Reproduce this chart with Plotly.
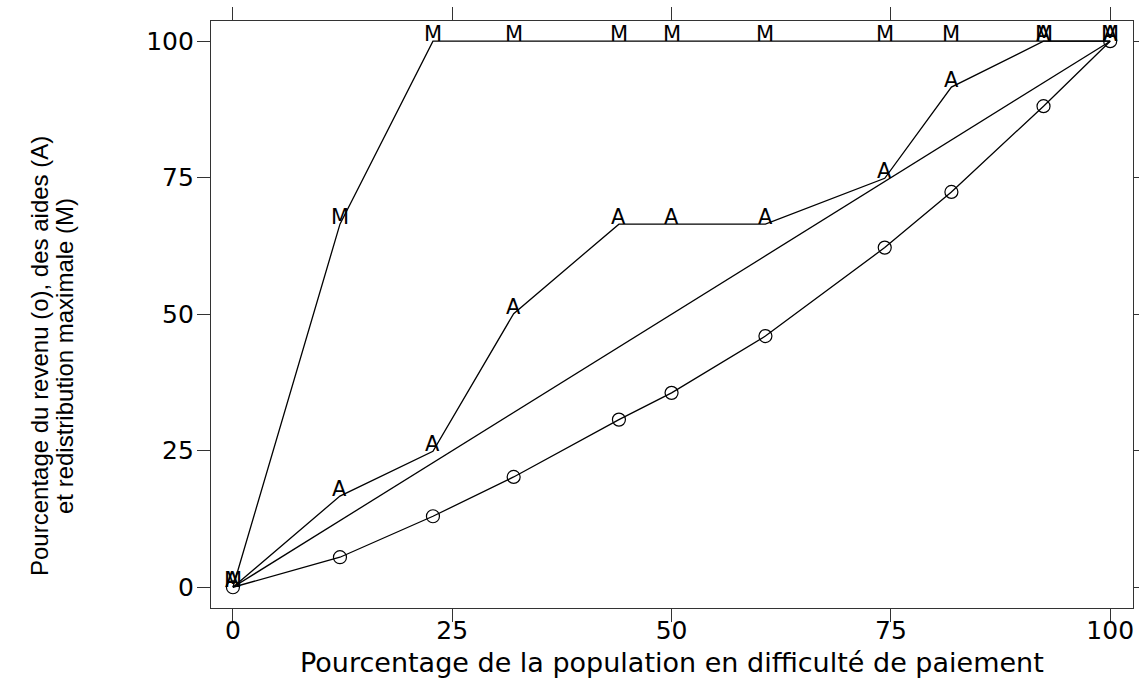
import plotly.graph_objects as go

# Data
x_pop = [0, 12.2, 22.8, 32.0, 44.0, 50.0, 60.7, 74.3, 81.9, 92.4, 100]
revenu = [0, 5.5, 13.0, 20.2, 30.7, 35.6, 46.0, 62.2, 72.4, 88.1, 100]
aides = [0, 16.7, 24.9, 50.1, 66.5, 66.5, 66.5, 74.9, 91.6, 100, 100]
maxi = [0, 66.5, 100, 100, 100, 100, 100, 100, 100, 100, 100]
egal_x = [0, 100]
egal_y = [0, 100]
tick_vals = [0, 25, 50, 75, 100]
tick_text = ["0", "25", "50", "75", "100"]

x_title = "Pourcentage de la population en difficulté de paiement"
y_title_1 = "Pourcentage du revenu (o), des aides (A)"
y_title_2 = "et redistribution maximale (M)"

line_style = dict(color="black", width=1.3)
fig = go.Figure()
fig.add_trace(go.Scatter(x=x_pop, y=maxi, mode="lines", line=line_style, hoverinfo="skip"))
fig.add_trace(go.Scatter(x=x_pop, y=aides, mode="lines", line=line_style, hoverinfo="skip"))
fig.add_trace(go.Scatter(x=egal_x, y=egal_y, mode="lines", line=line_style, hoverinfo="skip"))
fig.add_trace(go.Scatter(
    x=x_pop, y=revenu, mode="lines+markers", line=line_style,
    marker=dict(symbol="circle-open", size=13, color="black", line=dict(width=1.2)),
    hoverinfo="skip"))

letter_font = dict(family="DejaVu Sans", size=21, color="black")
annotations = []
for xv, yv in zip(x_pop, maxi):
    annotations.append(dict(x=xv, y=yv, xref="x", yref="y", text="M", showarrow=False,
                            font=letter_font, yanchor="bottom", yshift=-7))
for xv, yv in zip(x_pop, aides):
    annotations.append(dict(x=xv, y=yv, xref="x", yref="y", text="A", showarrow=False,
                            font=letter_font, yanchor="bottom", yshift=-7))

annotations.append(dict(x=0.5, y=-0.093, xref="paper", yref="paper", text=x_title,
                        showarrow=False, xanchor="center", yanchor="middle",
                        font=dict(family="DejaVu Sans", size=27, color="black")))
title_font = dict(family="Liberation Sans", size=24, color="black")
annotations.append(dict(x=(39 - 211) / 922, y=0.4293, xref="paper", yref="paper", text=y_title_1,
                        showarrow=False, xanchor="center", yanchor="middle", textangle=-90,
                        font=title_font))
annotations.append(dict(x=(64 - 211) / 922, y=0.4293, xref="paper", yref="paper", text=y_title_2,
                        showarrow=False, xanchor="center", yanchor="middle", textangle=-90,
                        font=title_font))

axis_common = dict(
    tickvals=tick_vals, ticktext=tick_text, ticks="outside", ticklen=13, tickwidth=1,
    tickcolor="#333333", showline=True, linecolor="#333333", linewidth=1.3,
    mirror="ticks", showgrid=False, zeroline=False, automargin=False,
    tickfont=dict(family="DejaVu Sans", size=25, color="black"),
)
fig.update_xaxes(range=[-2.5, 102.6], ticklabelstandoff=-13, **axis_common)
fig.update_yaxes(range=[-3.8, 103.7], ticklabelstandoff=-2, **axis_common)

fig.update_layout(
    width=1139, height=679,
    margin=dict(l=211, r=6, t=21, b=71),
    paper_bgcolor="white", plot_bgcolor="white",
    showlegend=False,
    annotations=annotations,
)

fig.write_html("out.html")
